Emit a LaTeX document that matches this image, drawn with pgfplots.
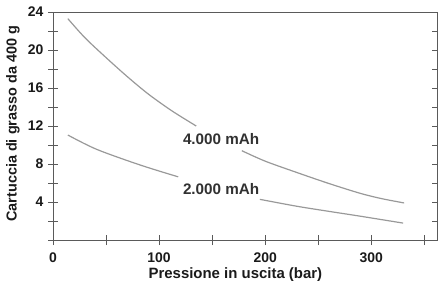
\documentclass[border=0pt]{standalone}
\usepackage{fontspec}
\setmainfont{Liberation Sans}
\usepackage{pgfplots}
\pgfplotsset{compat=1.18}
\definecolor{curve}{HTML}{999999}
\definecolor{frame}{HTML}{5A5A5A}
\definecolor{txt}{HTML}{1A1A1A}
\begin{document}
\begin{tikzpicture}[x=1bp,y=1bp]
\useasboundingbox (0,0) rectangle (438,280);
\begin{axis}[
  at={(53bp,40bp)}, anchor=origin,
  scale only axis, width=384bp, height=228bp,
  xmin=0, xmax=362, ymin=0, ymax=24,
  axis line style={frame, line width=0.9pt},
  every tick/.style={frame, line width=0.9pt},
  xtick={0,50,...,350},
  xticklabels={0,,100,,200,,300,},
  ytick={0,2,...,24},
  yticklabels={,,4,,8,,12,,16,,20,,24},
  xtick pos=bottom, ytick pos=left,
  tick align=center, major tick length=10bp,
  /pgf/number format/assume math mode=true,
  tick label style={font=\fontsize{14}{15}\selectfont\bfseries, text=txt},
  xticklabel style={inner sep=0.5bp, yshift=-7.5bp},
  yticklabel style={xshift=-1bp},
  xlabel={Pressione in uscita (bar)},
  ylabel={Cartuccia di grasso da 400 g},
  label style={font=\fontsize{15}{16}\selectfont\bfseries, text=txt},
  xlabel style={at={(axis description cs:0.475,0)}, anchor=north, inner sep=0pt, yshift=-27bp},
  ylabel style={font=\fontsize{14.5}{15}\selectfont\bfseries, at={(axis description cs:0,0.51)}, anchor=south, inner sep=0pt, yshift=33bp},
  clip=false,
]
\addplot[curve, line width=1.2pt, smooth] coordinates {
 (14,23.3) (30,21.3) (50,19.2) (70,17.2) (90,15.35) (112,13.6) (135,12.0)};
\addplot[curve, line width=1.2pt, smooth] coordinates {
 (178,9.4) (200,8.3) (230,7.1) (260,5.95) (290,4.9) (310,4.35) (331,3.9)};
\addplot[curve, line width=1.2pt, smooth] coordinates {
 (14,11.05) (41,9.55) (82,7.9) (118,6.65)};
\addplot[curve, line width=1.2pt, smooth] coordinates {
 (195,4.28) (230,3.55) (261,3.0) (290,2.5) (330,1.78)};
\node[font=\fontsize{15.3}{16}\selectfont\bfseries, text=txt!90!white] at (axis cs:158.5,10.63) {4.000 mAh};
\node[font=\fontsize{15.3}{16}\selectfont\bfseries, text=txt!90!white] at (axis cs:158.5,5.37) {2.000 mAh};
\end{axis}
\begin{axis}[
  at={(53bp,40bp)}, anchor=origin,
  scale only axis, width=384bp, height=228bp,
  xmin=0, xmax=362, ymin=0, ymax=24,
  axis x line=none, axis y line*=right,
  axis line style={draw=none},
  every tick/.style={frame, line width=0.9pt},
  ytick={2,4,...,22}, yticklabels={},
  tick align=inside, major tick length=5bp,
]
\end{axis}
\end{tikzpicture}
\end{document}
